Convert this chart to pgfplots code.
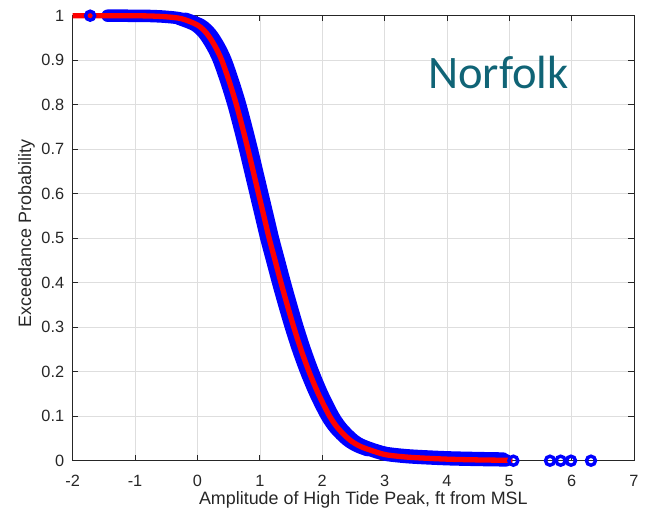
\documentclass[border=0pt]{standalone}
\usepackage{pgfplots}
\pgfplotsset{compat=1.18}
\usepackage{pgfplotstable}
\usepackage{fontspec}
\setmainfont{Liberation Sans}
\newfontfamily\calib{Carlito}
\definecolor{axcol}{RGB}{38,38,38}
\definecolor{gridcol}{RGB}{222,222,222}
\definecolor{norf}{RGB}{16,100,118}

% fitted exceedance curve (red)
\pgfplotstableread{
x y
-2.00 1.0000
-1.50 1.0000
-1.00 0.9998
-0.75 0.9993
-0.50 0.9975
-0.25 0.9930
0.00 0.9790
0.15 0.9600
0.28 0.9320
0.39 0.9000
0.515 0.8500
0.625 0.8000
0.72 0.7500
0.81 0.7000
0.895 0.6500
0.98 0.6000
1.065 0.5500
1.15 0.5000
1.245 0.4500
1.34 0.4000
1.44 0.3500
1.545 0.3000
1.66 0.2500
1.79 0.2000
1.94 0.1500
2.12 0.1000
2.26 0.0720
2.44 0.0470
2.60 0.0330
2.767 0.0240
3.00 0.0140
3.25 0.0095
3.50 0.0068
4.00 0.0035
4.50 0.0018
5.05 0.0008
}\fitdata

% empirical exceedance (blue band, central)
\pgfplotstableread{
x y
-1.44 1.0000
-1.00 0.9998
-0.75 0.9993
-0.50 0.9975
-0.25 0.9930
0.00 0.9790
0.15 0.9600
0.28 0.9320
0.39 0.9000
0.515 0.8500
0.625 0.8000
0.72 0.7500
0.81 0.7000
0.895 0.6500
0.98 0.6000
1.065 0.5500
1.15 0.5000
1.245 0.4500
1.34 0.4000
1.44 0.3500
1.545 0.3000
1.66 0.2500
1.79 0.2000
1.94 0.1500
2.12 0.1000
2.26 0.0720
2.44 0.0470
2.60 0.0330
2.767 0.0240
3.00 0.0140
3.25 0.0095
3.50 0.0068
4.00 0.0035
4.50 0.0018
4.95 0.0008
}\empc

% empirical band, left edge
\pgfplotstableread{
x y
-0.295 0.9930
-0.045 0.9790
0.105 0.9600
0.235 0.9320
0.345 0.9000
0.470 0.8500
0.580 0.8000
0.675 0.7500
0.765 0.7000
0.850 0.6500
0.935 0.6000
1.020 0.5500
1.105 0.5000
1.200 0.4500
1.295 0.4000
1.395 0.3500
1.500 0.3000
1.615 0.2500
1.745 0.2000
1.895 0.1500
2.075 0.1000
2.215 0.0720
2.395 0.0470
2.555 0.0330
2.722 0.0240
}\empl

% empirical band, right edge
\pgfplotstableread{
x y
-0.190 0.9930
0.060 0.9790
0.210 0.9600
0.340 0.9320
0.450 0.9000
0.575 0.8500
0.685 0.8000
0.780 0.7500
0.870 0.7000
0.955 0.6500
1.040 0.6000
1.125 0.5500
1.210 0.5000
1.305 0.4500
1.400 0.4000
1.500 0.3500
1.605 0.3000
1.720 0.2500
1.850 0.2000
2.000 0.1500
2.180 0.1000
2.320 0.0720
2.500 0.0470
2.660 0.0330
2.827 0.0240
3.060 0.0150
}\empr

% empirical band, upper tail
\pgfplotstableread{
x y
2.60 0.0370
2.767 0.0280
3.00 0.0180
3.25 0.0135
3.50 0.0108
4.00 0.0075
4.50 0.0058
4.90 0.0048
}\empt

\begin{document}
\begin{tikzpicture}
\begin{axis}[
  scale only axis, width=561.3pt, height=445pt,
  xmin=-2, xmax=7, ymin=0, ymax=1,
  xtick={-2,-1,0,1,2,3,4,5,6,7},
  xticklabels={-2,-1,0,1,2,3,4,5,6,7},
  ytick={0,0.1,0.2,0.3,0.4,0.5,0.6,0.7,0.8,0.9,1},
  yticklabels={0,0.1,0.2,0.3,0.4,0.5,0.6,0.7,0.8,0.9,1},
  grid=major, major grid style={gridcol, line width=0.6pt},
  axis line style={axcol, line width=0.7pt},
  tick style={axcol, line width=0.7pt},
  tick align=inside, major tick length=5.6pt,
  ticklabel style={font=\fontsize{16.3}{19}\selectfont, text=axcol},
  xticklabel style={anchor=north, inner sep=0pt, yshift=-14.5pt},
  yticklabel style={anchor=east, inner sep=0pt, xshift=-8.4pt},
  xlabel={Amplitude of High Tide Peak, ft from MSL},
  ylabel={Exceedance Probability},
  label style={font=\fontsize{17.9}{21}\selectfont, text=axcol, inner sep=0pt},
  xlabel style={at={(axis description cs:0.5178,-0.0995)}, anchor=base},
  ylabel style={at={(axis description cs:-0.0741,0.5106)}, anchor=base},
  clip=false,
]
\addplot[blue, line width=12.5pt, smooth, tension=0.5, no markers, line cap=round, line join=round] table {\empl};
\addplot[blue, line width=12.5pt, smooth, tension=0.5, no markers, line cap=round, line join=round] table {\empr};
\addplot[blue, line width=12.5pt, smooth, tension=0.5, no markers, line cap=round, line join=round] table {\empt};
\addplot[blue, line width=12.5pt, smooth, tension=0.5, no markers, line cap=round, line join=round] table {\empc};
\addplot[only marks, mark=o, mark size=4.5pt, blue, line width=3.4pt] coordinates {
(-1.72,1) (5.065,0) (5.653,0) (5.824,0) (5.99,0) (6.31,0)};
\addplot[red, line width=5.3pt, smooth, tension=0.5, no markers, line cap=butt, line join=round] table {\fitdata};
\node[anchor=base west, inner sep=0pt, text=norf, font=\calib\fontsize{46.6}{50}\selectfont] at (axis cs:3.697,0.837) {Norfolk};
\end{axis}
\pgfresetboundingbox
\path ([shift={(-72.7pt,-58.3pt)}]current axis.south west) rectangle ([shift={(16pt,15.7pt)}]current axis.north east);
\end{tikzpicture}
\end{document}
